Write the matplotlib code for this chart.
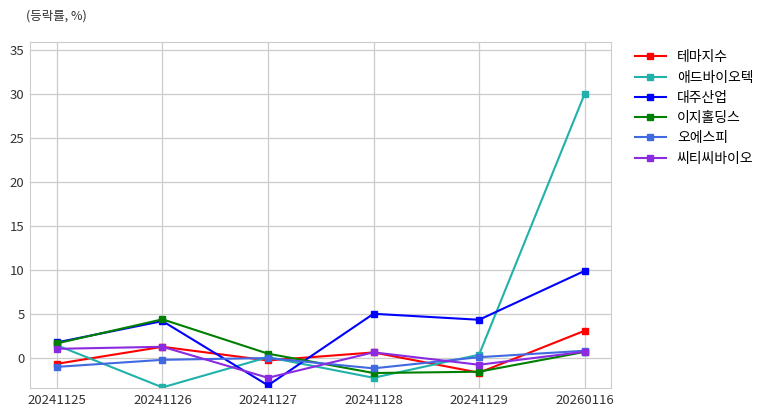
import matplotlib
matplotlib.use("Agg")
import matplotlib.pyplot as plt

dates = ["20241125", "20241126", "20241127", "20241128", "20241129", "20260116"]
names = ["테마지수", "애드바이오텍", "대주산업", "이지홀딩스", "오에스피", "씨티씨바이오"]
theme = [-0.65, 1.28, -0.27, 0.64, -1.66, 3.1]
adbio = [1.45, -3.33, 0.1, -2.24, 0.38, 30.0]
daeju = [1.78, 4.2, -3.1, 5.03, 4.35, 9.9]
easy = [1.67, 4.4, 0.5, -1.7, -1.55, 0.7]
osp = [-1.0, -0.2, 0.0, -1.17, 0.1, 0.83]
ctc = [1.05, 1.28, -2.24, 0.65, -0.76, 0.72]
series = [theme, adbio, daeju, easy, osp, ctc]
colors = ["red", "lightseagreen", "blue", "green", "royalblue", "blueviolet"]

plt.rcParams['font.family'] = ['Noto Sans CJK KR', 'DejaVu Sans']

fig = plt.figure(figsize=(7.75, 4.16), dpi=100)
ax = fig.add_axes([30/775, 28/416, (611-30)/775, (388-42)/416])
x = list(range(len(dates)))
for name, vals, c in zip(names, series, colors):
    ax.plot(x, vals, color=c, marker='s', markersize=4.5, linewidth=1.5, label=name)

ax.set_xticks(x)
ax.set_xticklabels(dates)
ax.set_xlim(-0.255, 5.25)
ax.set_ylim(-3.4, 35.9)
ax.set_yticks([0, 5, 10, 15, 20, 25, 30, 35])
ax.grid(True, color='#cccccc', linewidth=0.9)
ax.set_axisbelow(True)
for s in ax.spines.values():
    s.set_color('#cccccc')
ax.tick_params(axis='both', length=0, labelsize=9.5, colors='#333333', pad=4)
ax.legend(loc='upper left', bbox_to_anchor=(1.02, 1.012), frameon=False, fontsize=10,
          handlelength=2.2, labelspacing=0.45)
fig.text(26/775, 1 - 16/416, "(등락률, %)", fontsize=9, color='#333333', va='center', ha='left')
fig.savefig("out.png", dpi=100)
